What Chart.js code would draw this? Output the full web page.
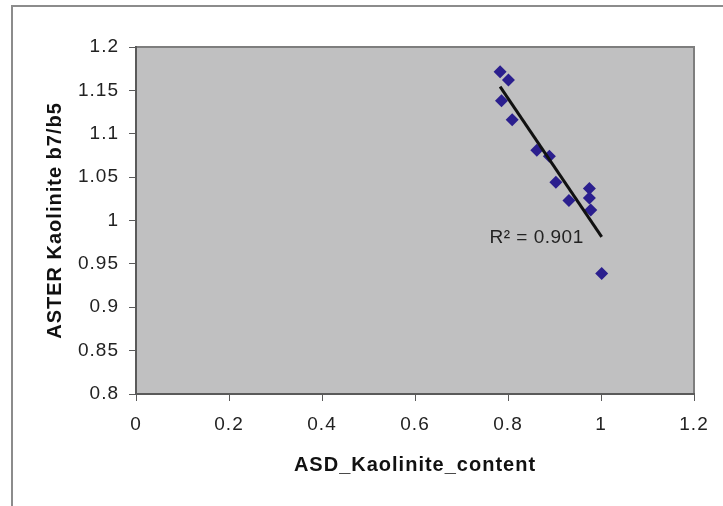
<!DOCTYPE html>
<html>
<head>
<meta charset="utf-8">
<script src="https://cdn.jsdelivr.net/npm/chart.js@4.4.0/dist/chart.umd.min.js"></script>
<style>
  html, body { margin: 0; padding: 0; background: #ffffff; overflow: hidden; }
  #wrap { width: 723px; height: 506px; position: relative; }
</style>
</head>
<body>
<div id="wrap"><canvas id="c" width="723" height="506"></canvas></div>
<script>
// Sample measurements: ASD kaolinite content vs ASTER band ratio b7/b5
const asdKaolinite = [0.783, 0.801, 0.786, 0.809, 0.862, 0.889, 0.903, 0.931, 0.975, 0.975, 0.978, 1.0015];
const asterRatio   = [1.1715, 1.162, 1.138, 1.116, 1.081, 1.074, 1.044, 1.023, 1.037, 1.026, 1.012, 0.939];

const xTicks = [0, 0.2, 0.4, 0.6, 0.8, 1, 1.2];
const yTicks = [0.8, 0.85, 0.9, 0.95, 1, 1.05, 1.1, 1.15, 1.2];

const xTitle = 'ASD_Kaolinite_content';
const yTitle = 'ASTER Kaolinite b7/b5';
const rSquaredLabel = 'R\u00B2 = 0.901';

// Least-squares linear fit over the measured points
function linearFit(xs, ys) {
  const n = xs.length;
  const mx = xs.reduce((a, b) => a + b, 0) / n;
  const my = ys.reduce((a, b) => a + b, 0) / n;
  let sxy = 0, sxx = 0;
  for (let i = 0; i < n; i++) {
    sxy += (xs[i] - mx) * (ys[i] - my);
    sxx += (xs[i] - mx) * (xs[i] - mx);
  }
  const slope = sxy / sxx;
  return { slope, intercept: my - slope * mx };
}

const fit = linearFit(asdKaolinite, asterRatio);
const xMin = Math.min(...asdKaolinite);
const xMax = Math.max(...asdKaolinite);
const trendPoints = [xMin, xMax].map(x => ({ x, y: fit.intercept + fit.slope * x }));

const points = asdKaolinite.map((x, i) => ({ x, y: asterRatio[i] }));

const FONT = '"Liberation Sans", Arial, Helvetica, sans-serif';

// Grey plot background, plot frame and the outer frame of the figure
const frame = {
  id: 'frame',
  beforeDraw(chart) {
    const { ctx, chartArea: a } = chart;
    ctx.save();
    ctx.fillStyle = '#ffffff';
    ctx.fillRect(0, 0, chart.width, chart.height);
    ctx.strokeStyle = '#8c8c8c';
    ctx.lineWidth = 2;
    ctx.strokeRect(12, 6, chart.width + 20, chart.height + 20);
    ctx.fillStyle = '#c0c0c1';
    ctx.fillRect(a.left, a.top, a.right - a.left, a.bottom - a.top);
    ctx.strokeStyle = '#7e7e7e';
    ctx.lineWidth = 2;
    ctx.strokeRect(a.left, a.top, a.right - a.left, a.bottom - a.top);
    ctx.restore();
    // slightly open letter spacing for all chart text
    ctx.letterSpacing = '1px';
  }
};

// R² caption placed just left of the end of the fitted line
const r2Label = {
  id: 'r2Label',
  afterDatasetsDraw(chart) {
    const { ctx, scales } = chart;
    const end = trendPoints[trendPoints.length - 1];
    const px = scales.x.getPixelForValue(end.x);
    const py = scales.y.getPixelForValue(end.y);
    ctx.save();
    ctx.letterSpacing = '0.5px';
    ctx.font = '19px ' + FONT;
    ctx.fillStyle = '#222222';
    ctx.textAlign = 'right';
    ctx.textBaseline = 'middle';
    ctx.fillText(rSquaredLabel, px - 18, py + 1);
    ctx.restore();
  }
};

new Chart(document.getElementById('c'), {
  data: {
    datasets: [
      {
        type: 'line',
        data: trendPoints,
        borderColor: '#111111',
        borderWidth: 3,
        pointRadius: 0,
        fill: false,
        order: 0
      },
      {
        type: 'scatter',
        data: points,
        pointStyle: 'rectRot',
        pointRadius: 6.5,
        pointBackgroundColor: '#2b1f8e',
        pointBorderColor: '#2b1f8e',
        pointBorderWidth: 0,
        order: 1
      }
    ]
  },
  plugins: [frame, r2Label],
  options: {
    responsive: false,
    animation: false,
    devicePixelRatio: 1,
    layout: { padding: { top: 47, right: 29, left: 0, bottom: 0 } },
    plugins: { legend: { display: false }, tooltip: { enabled: false } },
    scales: {
      x: {
        type: 'linear',
        min: 0,
        max: 1.2,
        afterFit(s) { s.height = 112; },
        afterBuildTicks(s) { s.ticks = xTicks.map(v => ({ value: v })); },
        ticks: {
          callback: v => String(v),
          font: { family: FONT, size: 19 },
          color: '#222222',
          padding: 12,
          maxRotation: 0,
          autoSkip: false
        },
        grid: { display: true, drawOnChartArea: false, drawTicks: true, tickLength: 7, color: '#5a5a5a', lineWidth: 1 },
        border: { display: true, color: '#5a5a5a', width: 2 },
        title: {
          display: true,
          text: xTitle,
          font: { family: FONT, size: 20, weight: 'bold' },
          color: '#111111',
          padding: { top: 0, bottom: 29 }
        }
      },
      y: {
        type: 'linear',
        min: 0.8,
        max: 1.2,
        afterFit(s) { s.width = 136; },
        afterBuildTicks(s) { s.ticks = yTicks.map(v => ({ value: v })); },
        ticks: {
          callback: v => String(v),
          font: { family: FONT, size: 19 },
          color: '#222222',
          padding: 10,
          autoSkip: false
        },
        grid: { display: true, drawOnChartArea: false, drawTicks: true, tickLength: 7, color: '#5a5a5a', lineWidth: 1 },
        border: { display: true, color: '#5a5a5a', width: 2 },
        title: {
          display: true,
          text: yTitle,
          font: { family: FONT, size: 20, weight: 'bold' },
          color: '#111111',
          padding: { top: 43, bottom: 0 }
        }
      }
    }
  }
});
</script>
</body>
</html>
